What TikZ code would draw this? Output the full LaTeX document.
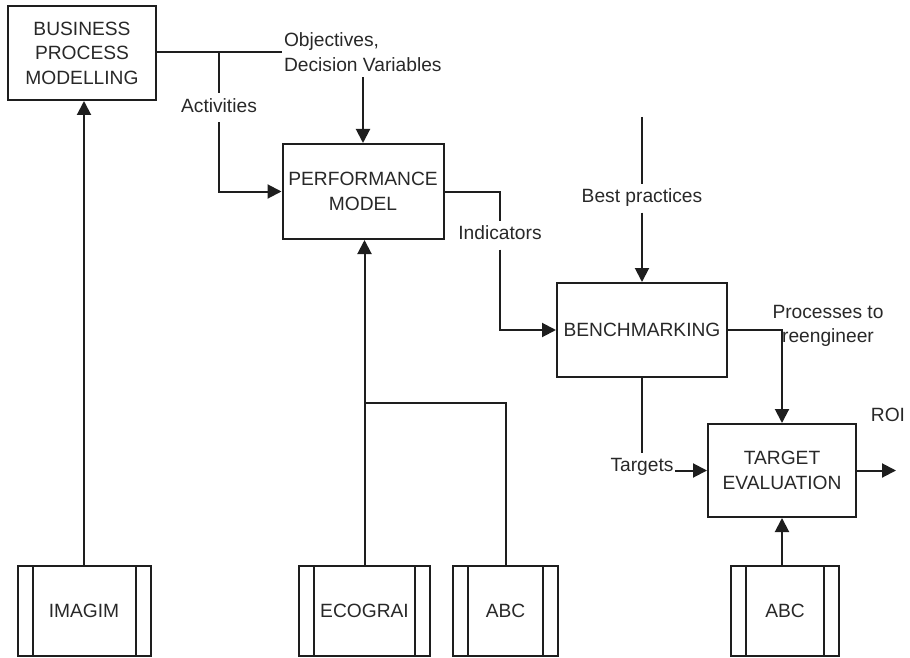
\documentclass[tikz,border=0pt]{standalone}
\usepackage{fontspec}
\setmainfont{Liberation Sans}
\usetikzlibrary{arrows.meta}
\definecolor{ink}{RGB}{30,30,30}
\definecolor{txt}{RGB}{40,40,40}
\begin{document}
\begin{tikzpicture}[x=1pt,y=-1pt,line width=2pt,draw=ink,
  fnt/.style={font=\fontsize{19.2}{24.5}\selectfont, text=txt},
  box/.style={fnt, draw=ink, rectangle, inner sep=0pt, align=center},
  tool/.style={box, minimum height=90pt,
    path picture={\draw[ink,line width=2pt]
      ([xshift=15pt]path picture bounding box.north west) -- ([xshift=15pt]path picture bounding box.south west)
      ([xshift=-15pt]path picture bounding box.north east) -- ([xshift=-15pt]path picture bounding box.south east);}},
  lbl/.style={fnt, inner xsep=1pt, inner ysep=5pt},
  fix/.style={text height=13pt, text depth=4pt},
  arr/.style={-{Triangle[length=14pt,width=14pt]}}
]
\useasboundingbox (0,0) rectangle (910,658);

% main boxes
\node[box, minimum width=148pt, minimum height=94pt] (bpm) at (82,53) {BUSINESS\\PROCESS\\MODELLING};
\node[box, minimum width=161pt, minimum height=95pt] (pm) at (363,191.5) {PERFORMANCE\\MODEL};
\node[box, minimum width=170pt, minimum height=94pt] (bm) at (642,330) {BENCHMARKING};
\node[box, minimum width=148pt, minimum height=93pt] (te) at (782,470.5) {TARGET\\EVALUATION};

% tool boxes
\node[tool, minimum width=133pt] (imagim) at (84,611) {IMAGIM};
\node[tool, minimum width=131pt] (ecograi) at (364.5,611) {ECOGRAI};
\node[tool, minimum width=105pt] (abc1) at (505.5,611) {ABC};
\node[tool, minimum width=108pt] (abc2) at (785,611) {ABC};

% labels
\node[lbl, align=left, anchor=west] (obj) at (282,52) {Objectives,\\Decision Variables};
\node[lbl, fix] (act) at (219,108) {Activities};
\node[lbl, fix] (ind) at (500,235) {Indicators};
\node[lbl, fix] (best) at (642,198) {Best practices};
\node[lbl, align=center] (proc) at (828,326) {Processes to\\reengineer};
\node[lbl, fix] (tgt) at (642,467) {Targets};
\node[lbl, fix] (roi) at (888,417) {ROI};

\coordinate (bptop) at (642,117);
\coordinate (roiend) at (896,470.5);
\coordinate (actbr) at (219,52);
\coordinate (abcj) at (364.5,403);

% connectors
\draw (bpm.east |- obj.west) -- (obj.west);
\draw (actbr) -- (act.north);
\draw[arr] (act.south) |- (pm.west);
\draw[arr] (pm.north |- obj.south) -- (pm.north);
\draw (pm.east) -| (ind.north);
\draw[arr] (ind.south) |- (bm.west);
\draw (bptop) -- (best.north);
\draw[arr] (best.south) -- (bm.north);
\draw[arr] (bm.east) -| (te.north);
\draw (bm.south) -- (tgt.north);
\draw[arr] (tgt.east |- te.west) -- (te.west);
\draw[arr] (te.east) -- (roiend);
\draw[arr] (imagim.north) -- (imagim.north |- bpm.south);
\draw[arr] (ecograi.north) -- (ecograi.north |- pm.south);
\draw (abc1.north) |- (abcj);
\draw[arr] (te.south |- abc2.north) -- (te.south);
\end{tikzpicture}
\end{document}
